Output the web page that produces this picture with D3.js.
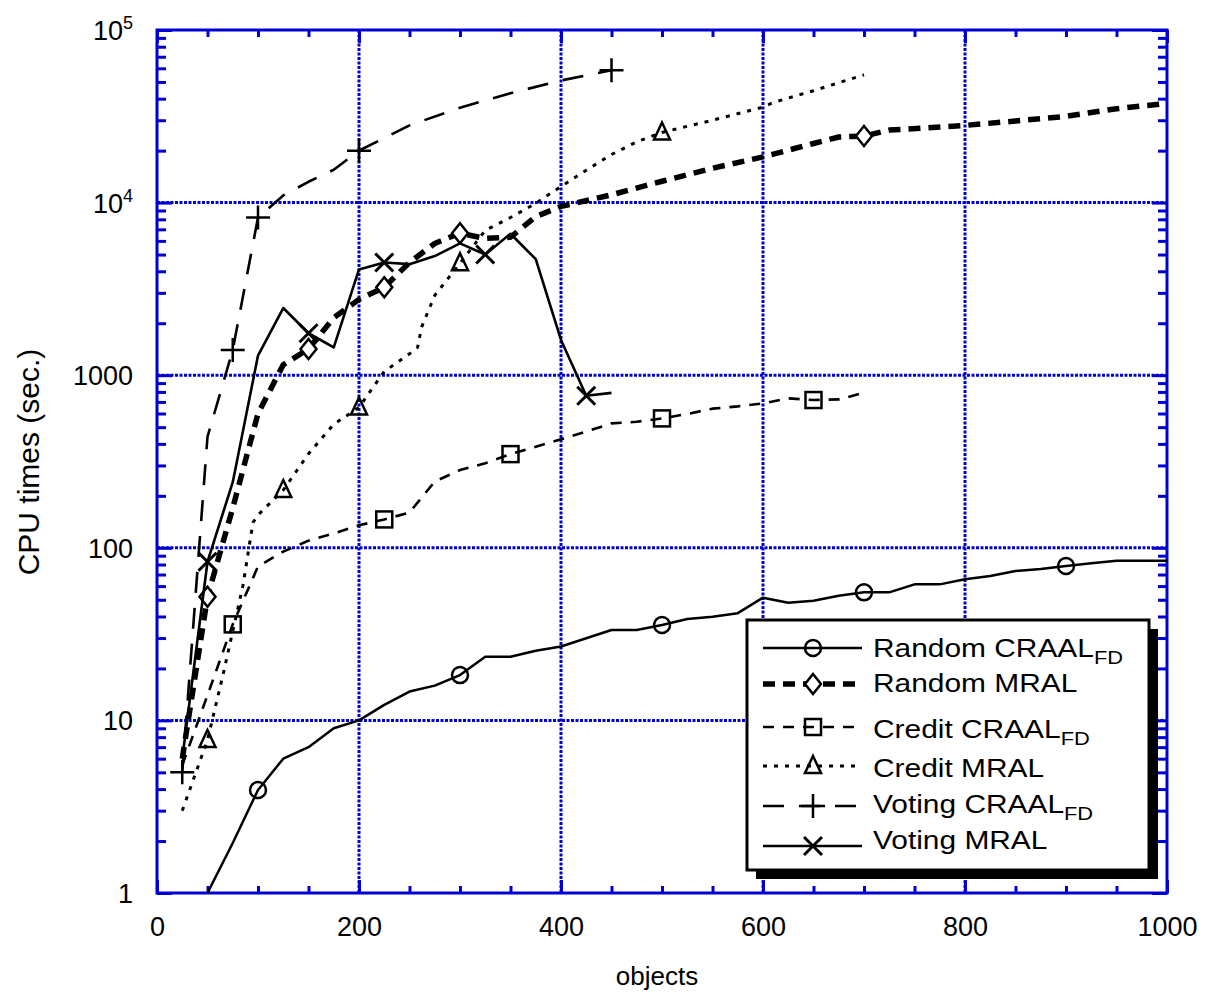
<!DOCTYPE html>
<html>
<head>
<meta charset="utf-8">
<script src="https://cdn.jsdelivr.net/npm/d3@7"></script>
<style>
  body { margin: 0; background: #fff; }
  text { font-family: "Liberation Sans", Arial, sans-serif; fill: #000; }
</style>
</head>
<body>
<div id="chart"></div>
<script>
// Random CRAAL_FD
const rcX = [50, 75, 100, 125, 150, 175, 200, 225, 250, 275, 300, 325, 350, 375, 400, 450, 475, 500, 525, 550, 575, 600, 625, 650, 675, 700, 725, 750, 775, 800, 825, 850, 875, 900, 925, 950, 1000];
const rcY = [1, 1.95, 3.95, 6.0, 7.0, 9.0, 10, 12.3, 14.7, 15.9, 18.3, 23.4, 23.4, 25.3, 26.8, 33.4, 33.4, 35.7, 38.7, 39.8, 41.8, 51.4, 48, 49.3, 52.7, 55.2, 55.2, 61.4, 61.4, 65.7, 68.7, 73.4, 75.4, 78.4, 81.3, 84.2, 84.2];
const rcMarks = [100, 300, 500, 700, 900];

// Random MRAL
const rmX = [25, 50, 75, 100, 125, 150, 175, 200, 225, 250, 275, 300, 325, 350, 375, 400, 450, 500, 550, 600, 650, 675, 700, 725, 800, 850, 900, 950, 1000];
const rmY = [6, 52, 170, 600, 1150, 1420, 2150, 2750, 3230, 4500, 5800, 6650, 6200, 6300, 8300, 9500, 11100, 13300, 15800, 18400, 22000, 24000, 24300, 26300, 28000, 29700, 31600, 35000, 37600];
const rmMarks = [50, 150, 225, 300, 700];

// Credit CRAAL_FD
const ccX = [25, 50, 75, 100, 125, 150, 175, 200, 225, 250, 260, 275, 300, 325, 350, 375, 400, 425, 450, 475, 500, 525, 550, 575, 600, 625, 650, 675, 700];
const ccY = [5.5, 14, 36, 78, 95, 110, 121, 135, 146, 160, 189, 242, 282, 309, 349, 385, 425, 471, 526, 537, 562, 596, 640, 660, 687, 734, 718, 724, 791];
const ccMarks = [75, 225, 350, 500, 650];

// Credit MRAL
const cmX = [25, 50, 65, 85, 95, 100, 125, 150, 175, 200, 210, 225, 250, 258, 262, 275, 300, 325, 350, 375, 400, 425, 450, 475, 500, 550, 600, 610, 650, 700];
const cmY = [3, 7.7, 18, 60, 140, 155, 216, 350, 520, 650, 790, 1050, 1330, 1450, 1900, 2900, 4450, 6900, 8200, 9900, 12400, 15400, 19000, 22500, 25500, 30000, 35700, 38000, 44500, 55000];
const cmMarks = [50, 125, 200, 300, 500];

// Voting CRAAL_FD
const vcX = [25, 50, 75, 100, 125, 150, 175, 200, 250, 300, 350, 400, 450];
const vcY = [5, 440, 1400, 8200, 11000, 13200, 15500, 20000, 28000, 35500, 43000, 51000, 58500];
const vcMarks = [25, 75, 100, 200, 450];

// Voting MRAL
const vmX = [25, 50, 75, 100, 125, 150, 175, 200, 225, 250, 275, 300, 325, 350, 375, 400, 425, 450];
const vmY = [6, 83, 240, 1300, 2450, 1750, 1450, 4100, 4500, 4400, 4900, 5800, 5000, 6600, 4700, 1600, 760, 790];
const vmMarks = [50, 150, 225, 325, 425];

const xMajor = [0, 200, 400, 600, 800, 1000];
const yMajor = [1, 10, 100, 1000, 1e4, 1e5];
const yTickLabels = ['1', '10', '100', '1000', '10^4', '10^5'];

const series = [
  { name: 'Random CRAAL', sub: 'FD', xs: rcX, ys: rcY, marks: rcMarks, marker: 'circle', width: 2.5, dash: null },
  { name: 'Random MRAL', sub: '', xs: rmX, ys: rmY, marks: rmMarks, marker: 'diamond', width: 5.5, dash: '12,8' },
  { name: 'Credit CRAAL', sub: 'FD', xs: ccX, ys: ccY, marks: ccMarks, marker: 'square', width: 2.6, dash: '11,9' },
  { name: 'Credit MRAL', sub: '', xs: cmX, ys: cmY, marks: cmMarks, marker: 'triangle', width: 3, dash: '4,7' },
  { name: 'Voting CRAAL', sub: 'FD', xs: vcX, ys: vcY, marks: vcMarks, marker: 'plus', width: 2.6, dash: '21,15' },
  { name: 'Voting MRAL', sub: '', xs: vmX, ys: vmY, marks: vmMarks, marker: 'cross', width: 2.6, dash: null }
];

const margin = { top: 30, right: 47, bottom: 105, left: 157 };
const W = 1214, H = 998;
const width = W - margin.left - margin.right;
const height = H - margin.top - margin.bottom;
const blue = '#0000d4';

const svg = d3.select('#chart').append('svg')
  .attr('width', W).attr('height', H);
const g = svg.append('g').attr('transform', `translate(${margin.left},${margin.top})`);

const x = d3.scaleLinear().domain([0, 1000]).range([0, width]);
const y = d3.scaleLog().domain([1, 1e5]).range([height, 0]);

// grid
const xGrid = xMajor.slice(1, -1), yGrid = yMajor.slice(1, -1);
g.selectAll('.xgrid').data(xGrid).enter().append('line')
  .attr('x1', d => x(d)).attr('x2', d => x(d)).attr('y1', 0).attr('y2', height)
  .attr('stroke', blue).attr('stroke-width', 3).attr('stroke-dasharray', '3,1.5');
g.selectAll('.ygrid').data(yGrid).enter().append('line')
  .attr('y1', d => y(d)).attr('y2', d => y(d)).attr('x1', 0).attr('x2', width)
  .attr('stroke', blue).attr('stroke-width', 3).attr('stroke-dasharray', '3,1.5');

// minor ticks
const xMinor = d3.range(0, 1001, 50);
const yMinor = [];
[1, 10, 100, 1000, 1e4].forEach(b => { for (let k = 2; k <= 9; k++) yMinor.push(b * k); });

function tickAxis(axis, vals, size) {
  return axis.tickValues(vals).tickSize(size).tickFormat('');
}
const axes = [
  [() => d3.axisBottom(x), `translate(0,${height})`, xMinor, -7, xMajor, -13],
  [() => d3.axisTop(x), 'translate(0,0)', xMinor, -7, xMajor, -13],
  [() => d3.axisLeft(y), 'translate(0,0)', yMinor, -9, yMajor, -15],
  [() => d3.axisRight(y), `translate(${width},0)`, yMinor, -9, yMajor, -15]
];
axes.forEach(a => {
  [[a[2], a[3]], [a[4], a[5]]].forEach(([vals, size]) => {
    const sel = g.append('g').attr('transform', a[1]).call(tickAxis(a[0](), vals, size));
    sel.select('.domain').remove();
    sel.selectAll('line').attr('stroke', blue).attr('stroke-width', 3);
  });
});

// frame
g.append('rect').attr('x', 0).attr('y', 0).attr('width', width).attr('height', height)
  .attr('fill', 'none').attr('stroke', blue).attr('stroke-width', 3);

// tick labels
const xLab = g.append('g').attr('transform', `translate(0,${height})`)
  .call(d3.axisBottom(x).tickValues(xMajor).tickSize(0).tickPadding(24).tickFormat(d3.format('d')));
xLab.select('.domain').remove();
xLab.selectAll('text').style('font-size', '27px').style('font-family', '"Liberation Sans", Arial, sans-serif').attr('fill', '#000');

const yLab = g.append('g').attr('transform', 'translate(-24,0)');
yLab.selectAll('text').data(yMajor).enter().append('text')
  .attr('x', 0).attr('y', d => y(d) + 10)
  .attr('text-anchor', 'end')
  .style('font-size', '27px')
  .each(function (d, i) {
    const t = d3.select(this);
    const lab = yTickLabels[i];
    if (lab.includes('^')) {
      const [b, e] = lab.split('^');
      t.append('tspan').text(b);
      t.append('tspan').attr('dy', -11).style('font-size', '18px').text(e);
    } else {
      t.text(lab);
    }
  });

// axis titles
svg.append('text').attr('x', margin.left + x(500) - 5).attr('y', 985)
  .attr('text-anchor', 'middle').style('font-size', '26px').text('objects');
svg.append('text').attr('transform', 'translate(39,462) rotate(-90)')
  .attr('text-anchor', 'middle').style('font-size', '30px').text('CPU times (sec.)');

// markers
function drawMarker(sel, type, cx, cy) {
  const s = sel.append('g').attr('transform', `translate(${cx},${cy})`)
    .attr('fill', 'none').attr('stroke', '#000').attr('stroke-width', 2.5);
  if (type === 'circle') s.append('ellipse').attr('rx', 8).attr('ry', 8);
  if (type === 'diamond') s.append('path').attr('d', 'M0,-10L8,0L0,10L-8,0Z').attr('fill', '#fff');
  if (type === 'square') s.append('rect').attr('x', -8).attr('y', -8).attr('width', 16).attr('height', 16);
  if (type === 'triangle') s.append('path').attr('d', 'M0,-10L8,7L-8,7Z');
  if (type === 'plus') s.append('path').attr('d', 'M-12,0H12M0,-12V12');
  if (type === 'cross') s.append('path').attr('d', 'M-9,-9L9,9M-9,9L9,-9').attr('stroke-width', 3);
}

const line = d3.line().x(d => x(d[0])).y(d => y(d[1]));
const plot = g.append('g');
series.forEach(s => {
  const pts = s.xs.map((v, i) => [v, s.ys[i]]);
  plot.append('path').datum(pts).attr('d', line)
    .attr('fill', 'none').attr('stroke', '#000').attr('stroke-width', s.width)
    .attr('stroke-dasharray', s.dash).attr('stroke-linejoin', 'round');
  s.marks.forEach(m => {
    const p = pts.find(d => d[0] === m);
    drawMarker(plot, s.marker, x(p[0]), y(p[1]));
  });
});

// legend
const lg = svg.append('g').attr('transform', 'translate(747,620)');
lg.append('rect').attr('x', 9).attr('y', 9).attr('width', 402).attr('height', 250).attr('fill', '#000');
lg.append('rect').attr('x', 0).attr('y', 0).attr('width', 402).attr('height', 250)
  .attr('fill', '#fff').attr('stroke', '#000').attr('stroke-width', 3);
const rowY = [28, 64, 107, 146, 186, 226];
const textY = [37, 72, 118, 157, 193, 229];
series.forEach((s, i) => {
  const ly = rowY[i];
  lg.append('line').attr('x1', 16).attr('x2', 115).attr('y1', ly).attr('y2', ly)
    .attr('stroke', '#000').attr('stroke-width', s.width).attr('stroke-dasharray', s.dash);
  drawMarker(lg, s.marker, 66, ly);
  const t = lg.append('text').attr('transform', `translate(126,${textY[i]}) scale(1.15,1)`)
    .style('font-size', '26px');
  t.append('tspan').text(s.name);
  if (s.sub) t.append('tspan').attr('dy', 7).style('font-size', '19px').text(s.sub);
});
</script>
</body>
</html>
